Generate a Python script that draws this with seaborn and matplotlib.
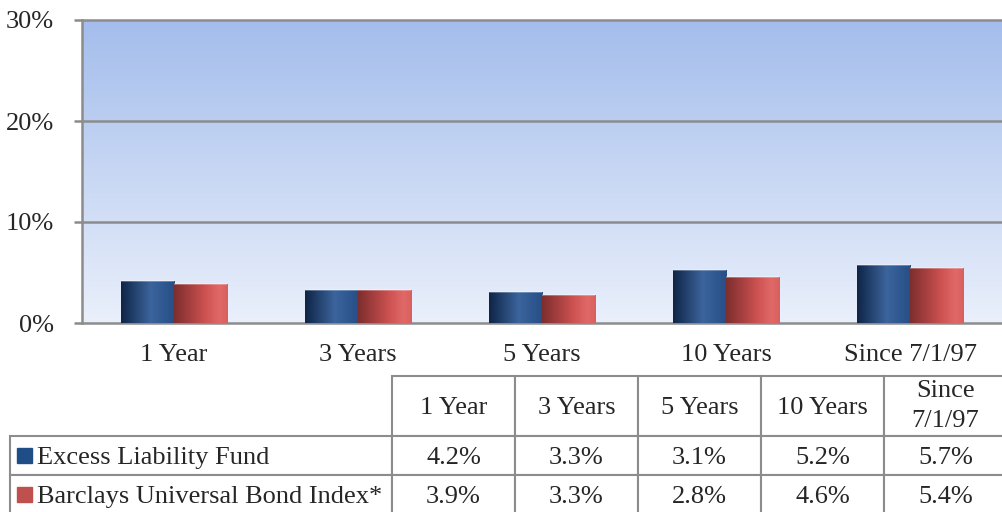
import numpy as np
import pandas as pd
import matplotlib
matplotlib.use("Agg")
import matplotlib.pyplot as plt
from matplotlib.colors import LinearSegmentedColormap
from matplotlib.patches import Rectangle
import seaborn as sns

periods = ['1 Year', '3 Years', '5 Years', '10 Years', 'Since 7/1/97']
table_headers = ['1 Year', '3 Years', '5 Years', '10 Years', 'Since\n7/1/97']
series_names = ['Excess Liability Fund', 'Barclays Universal Bond Index*']
fund_returns = [4.2, 3.3, 3.1, 5.2, 5.7]
index_returns = [3.9, 3.3, 2.8, 4.6, 5.4]
y_ticks = [0, 10, 20, 30]

blue = '#1f4e86'
red = '#c0504d'
grid_gray = '#8c8c8c'
FS = 19


def build_frame():
    rows = []
    for p, v in zip(periods, fund_returns):
        rows.append({'Period': p, 'Series': series_names[0], 'Return': v})
    for p, v in zip(periods, index_returns):
        rows.append({'Period': p, 'Series': series_names[1], 'Return': v})
    return pd.DataFrame(rows)


sns.set_style('white')
plt.rcParams['font.family'] = ['Liberation Serif', 'DejaVu Serif']

fig = plt.figure(figsize=(10.02, 5.12), dpi=100)
ax = fig.add_axes([82 / 1002, 189 / 512, 920 / 1002, 303 / 512])

df = build_frame()
sns.barplot(data=df, x='Period', y='Return', hue='Series', order=periods,
            hue_order=series_names, palette=[blue, red], width=0.58,
            gap=0, saturation=1, legend=False, ax=ax, zorder=3,
            edgecolor='none', linewidth=0)

n = len(periods)

# background gradient (darker at the top)
bg = LinearSegmentedColormap.from_list('bg', ['#a4bdec', '#eaf0fb'])
ax.imshow(np.linspace(0, 1, 256).reshape(-1, 1), cmap=bg, aspect='auto',
          extent=[-0.5, n - 0.5, 0, 30], origin='upper', zorder=0)

# cylinder shading on the bars
blue_cm = LinearSegmentedColormap.from_list(
    'b', [(0, '#0e2546'), (0.55, '#3c649c'), (0.8, '#2f5891'), (1, '#274d85')])
red_cm = LinearSegmentedColormap.from_list(
    'r', [(0, '#7e2d2d'), (0.6, '#cf5352'), (0.85, '#e06a69'), (1, '#d95f5e')])
grad = np.linspace(0, 1, 128).reshape(1, -1)
for i, bar in enumerate(ax.patches):
    x0 = bar.get_x()
    w = bar.get_width()
    h = bar.get_height()
    cm = blue_cm if i < n else red_cm
    im = ax.imshow(grad, cmap=cm, aspect='auto', extent=[x0, x0 + w, 0, h],
                   zorder=4)
    im.set_clip_path(bar)
    ax.plot([x0, x0 + w], [h, h], color='#ffffff', alpha=0.35, lw=1.2,
            zorder=5, solid_capstyle='butt')

ax.set_ylim(0, 30)
ax.set_xlim(-0.5, n - 0.5)

for t in y_ticks[1:]:
    ax.axhline(t, color=grid_gray, lw=1.8, zorder=2, clip_on=False)

ax.set_yticks(y_ticks)
ax.set_yticklabels([f'{t}%' for t in y_ticks])
ax.set_xticks(range(n))
ax.set_xticklabels(periods)
ax.set_xticks(np.arange(0.5, n - 1, 1), minor=True)
ax.tick_params(axis='x', which='major', length=0, pad=15, labelsize=FS)
ax.tick_params(axis='x', which='minor', length=6, width=1.8, color=grid_gray,
               direction='out')
ax.tick_params(axis='y', length=6, width=1.8, color=grid_gray, pad=14,
               labelsize=FS, direction='out', left=True)
ax.set_xlabel('')
ax.set_ylabel('')
for s in ['top', 'right']:
    ax.spines[s].set_visible(False)
for s in ['left', 'bottom']:
    ax.spines[s].set_color(grid_gray)
    ax.spines[s].set_linewidth(1.8)

# data table under the chart
tax = fig.add_axes([10 / 1002, -2 / 512, 997 / 1002, 138 / 512])
tax.axis('off')
cells = [table_headers]
cells.append([f'{v:.1f}%' for v in fund_returns])
cells.append([f'{v:.1f}%' for v in index_returns])
row_labels = [''] + series_names
cell_text = [[row_labels[r]] + cells[r] for r in range(3)]
label_w = 382 / 997
col_w = 123 / 997
tbl = tax.table(cellText=cell_text, colWidths=[label_w] + [col_w] * 5,
                cellLoc='center', bbox=[0, 0, 1, 1])
tbl.auto_set_font_size(False)
row_h = [60 / 138, 39 / 138, 39 / 138]
for (r, c), cell in tbl.get_celld().items():
    cell.set_edgecolor(grid_gray)
    cell.set_linewidth(1.5)
    cell.set_height(row_h[r])
    txt = cell.get_text()
    txt.set_fontsize(FS)
    if '\n' in txt.get_text():
        txt.set_linespacing(1.45)
    else:
        txt.set_va('center_baseline')
    if c == 0:
        txt.set_ha('left')
        cell.PAD = 0.07
        if r == 0:
            cell.visible_edges = ''

# little colour keys in the row labels
for r, col in zip([1, 2], [blue, red]):
    yc = 1 - (row_h[0] + (r - 0.5) * row_h[1])
    tax.add_patch(Rectangle((7 / 997, yc - 7 / 138), 15 / 997, 15 / 138,
                            transform=tax.transAxes, color=col, zorder=5,
                            clip_on=False))

fig.savefig('out.png', dpi=100)
